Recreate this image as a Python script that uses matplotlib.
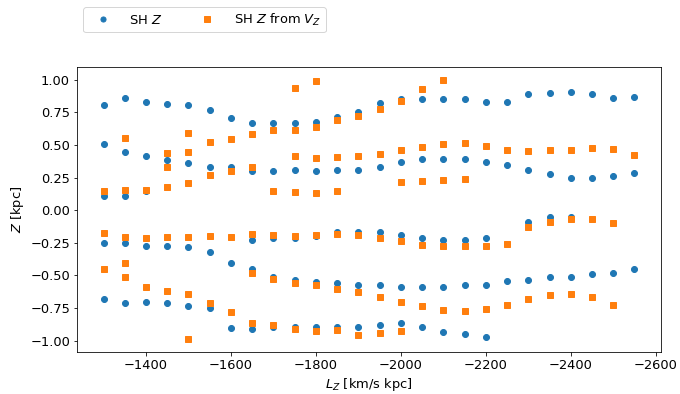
import numpy as np
import matplotlib
matplotlib.use("Agg")
import matplotlib.pyplot as plt

nan = np.nan

# Angular momentum bins [km/s kpc]
L_Z = [-1300, -1350, -1400, -1450, -1500, -1550, -1600, -1650, -1700, -1750,
       -1800, -1850, -1900, -1950, -2000, -2050, -2100, -2150, -2200, -2250,
       -2300, -2350, -2400, -2450, -2500, -2550]

# "SH Z" (blue circles), several branches per L_Z bin
sh_z_1 = [0.808, 0.857, 0.826, 0.816, 0.808, 0.768, 0.709, 0.668, 0.668, 0.668,
          0.678, 0.714, 0.752, 0.818, 0.849, 0.849, 0.849, 0.849, 0.826, 0.826,
          0.887, 0.898, 0.908, 0.887, 0.857, 0.867]
sh_z_2 = [0.507, 0.448, 0.418, 0.387, 0.359, 0.328, 0.328, 0.298, 0.298, 0.308,
          0.298, 0.308, 0.308, 0.328, 0.369, 0.389, 0.389, 0.389, 0.369, 0.349,
          0.308, 0.277, 0.249, 0.249, 0.259, 0.287]
sh_z_3 = [0.109, 0.109, 0.145, nan, nan, nan, nan, nan, nan, nan,
          nan, nan, nan, nan, nan, nan, nan, nan, nan, nan,
          nan, nan, nan, nan, nan, nan]
sh_z_4 = [-0.251, -0.251, -0.272, -0.272, -0.282, -0.320, -0.402, -0.451, -0.510, -0.538,
          -0.550, -0.561, -0.571, -0.571, -0.592, -0.592, -0.592, -0.571, -0.571, -0.543,
          -0.533, -0.512, -0.512, -0.492, -0.481, -0.451]
sh_z_5 = [nan, nan, nan, nan, nan, nan, nan, -0.231, -0.213, -0.213,
          -0.195, -0.170, -0.170, -0.170, -0.190, -0.211, -0.231, -0.231, -0.213, nan,
          -0.091, -0.052, -0.052, nan, nan, nan]
sh_z_6 = [-0.683, -0.711, -0.701, -0.711, -0.732, -0.752, -0.903, -0.913, -0.893, -0.893,
          -0.893, -0.893, -0.893, -0.880, -0.862, -0.893, -0.931, -0.952, -0.972, nan,
          nan, nan, nan, nan, nan, nan]

# "SH Z from V_Z" (orange squares)
vz_z_1 = [nan, nan, nan, nan, nan, nan, nan, nan, nan, 0.936,
          0.990, nan, nan, nan, nan, 0.928, 0.998, nan, nan, nan,
          nan, nan, nan, nan, nan, nan]
vz_z_2 = [nan, 0.553, nan, 0.440, 0.589, 0.525, 0.545, 0.586, 0.612, 0.614,
          0.640, 0.691, 0.719, 0.778, 0.837, nan, nan, nan, nan, nan,
          nan, nan, nan, nan, nan, nan]
vz_z_3 = [nan, nan, nan, 0.333, 0.446, 0.267, 0.298, 0.328, nan, 0.412,
          0.402, 0.408, 0.415, 0.430, 0.458, 0.487, 0.507, 0.515, 0.494, 0.464,
          0.454, 0.458, 0.461, 0.479, 0.469, 0.423]
vz_z_4 = [0.147, 0.152, 0.157, 0.175, 0.205, nan, nan, nan, 0.147, 0.139,
          0.132, 0.149, nan, nan, 0.216, 0.224, 0.231, 0.241, nan, nan,
          nan, nan, nan, nan, nan, nan]
vz_z_5 = [-0.178, -0.206, -0.211, -0.208, -0.203, -0.198, -0.203, -0.185, -0.193, -0.198,
          -0.190, -0.180, -0.188, -0.211, -0.236, -0.264, -0.275, -0.272, -0.272, -0.262,
          -0.129, -0.088, -0.070, -0.065, -0.096, nan]
vz_z_6 = [-0.451, -0.510, -0.586, -0.619, -0.645, -0.711, -0.783, -0.479, -0.525, -0.556,
          -0.576, -0.604, -0.630, -0.665, -0.706, -0.737, -0.768, -0.770, -0.757, -0.727,
          -0.681, -0.648, -0.640, -0.665, -0.724, nan]
vz_z_7 = [nan, -0.407, nan, nan, -0.987, nan, nan, -0.862, -0.877, -0.913,
          -0.926, -0.916, -0.954, -0.941, -0.923, nan, nan, nan, nan, nan,
          nan, nan, nan, nan, nan, nan]

sh_rows = [sh_z_1, sh_z_2, sh_z_3, sh_z_4, sh_z_5, sh_z_6]
vz_rows = [vz_z_1, vz_z_2, vz_z_3, vz_z_4, vz_z_5, vz_z_6, vz_z_7]

plt.rcParams['font.size'] = 13
plt.rcParams['font.family'] = ['DejaVu Sans']

fig = plt.figure(figsize=(680 / 72, 394 / 72), dpi=72)
ax = fig.add_axes([77 / 680, 1 - 352 / 394, (661 - 77) / 680, (352 - 67) / 394])

x_all = np.tile(np.array(L_Z, dtype=float), len(sh_rows))
y_all = np.concatenate([np.array(r, dtype=float) for r in sh_rows])
ax.plot(x_all, y_all, 'o', color='#1f77b4', markersize=6, linestyle='none',
        label='SH $Z$')

x_all2 = np.tile(np.array(L_Z, dtype=float), len(vz_rows))
y_all2 = np.concatenate([np.array(r, dtype=float) for r in vz_rows])
ax.plot(x_all2, y_all2, 's', color='#ff7f0e', markersize=6, linestyle='none',
        label='SH $Z$ from $V_Z$')

ax.invert_xaxis()
ax.set_xlabel('$L_Z$ [km/s kpc]')
ax.set_ylabel('$Z$ [kpc]')
ax.set_yticks([-1.0, -0.75, -0.5, -0.25, 0.0, 0.25, 0.5, 0.75, 1.0])

fig.legend(loc='upper left', bbox_to_anchor=(83 / 680, 1 - 7 / 394), ncol=2,
           borderaxespad=0, fontsize=13, borderpad=0.35, handlelength=2.3,
           handletextpad=0.9, columnspacing=2.3, markerscale=0.85)

fig.savefig('out.png', dpi=72)
